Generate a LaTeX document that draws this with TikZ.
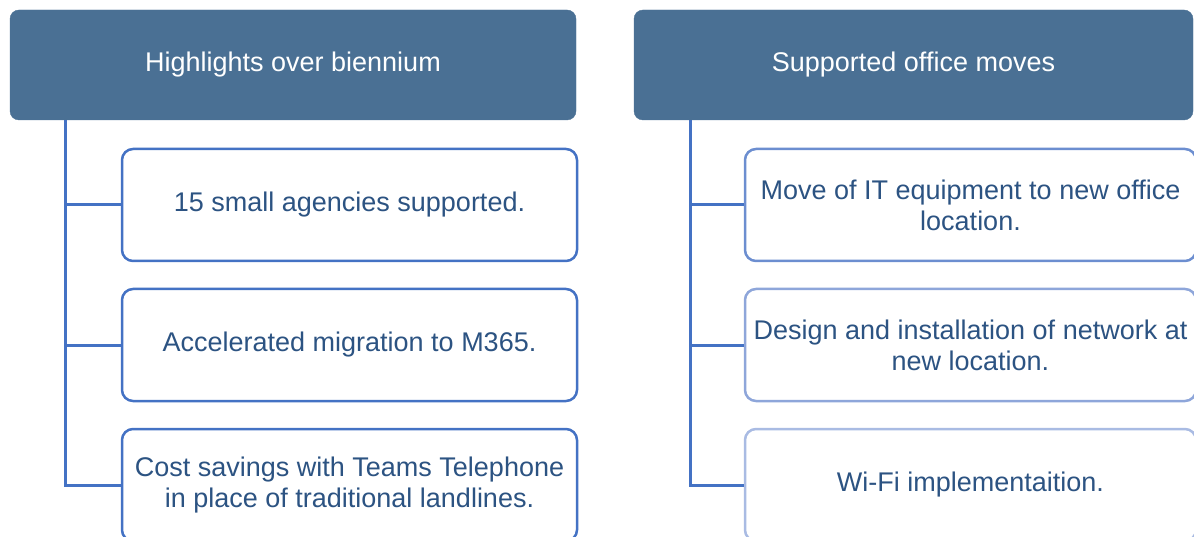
\documentclass[tikz,border=0pt]{standalone}
\usepackage{fontspec}
\setmainfont{Liberation Sans}
\definecolor{hdrfill}{HTML}{4A7094}
\definecolor{txtc}{HTML}{2C5382}
\definecolor{lnc}{HTML}{4472C4}
\definecolor{bA}{HTML}{4472C4}
\definecolor{bB}{HTML}{6C8ED0}
\definecolor{bC}{HTML}{8EA6DA}
\definecolor{bD}{HTML}{A9BBE3}
\tikzset{
  hdr/.style={fill=hdrfill, draw=hdrfill, rounded corners=9pt, minimum height=110pt,
    text=white, font=\fontsize{27}{31}\selectfont, inner sep=0pt},
  child/.style={fill=white, line width=2.5pt, rounded corners=11pt, minimum height=112pt,
    text=txtc, font=\fontsize{27}{31}\selectfont, align=center, inner sep=0pt},
  conn/.style={draw=lnc, line width=3pt}
}
\begin{document}
\begin{tikzpicture}[x=1pt,y=-1pt]
\useasboundingbox (0,0) rectangle (1194,537);
\begin{scope}
\clip (0,0) rectangle (1194,537);
% left column
\node[hdr, minimum width=566pt] (h1) at (293,65) {Highlights over biennium};
\node[child, draw=bA, minimum width=455pt] (a1) at (349.5,205) {15 small agencies supported.};
\node[child, draw=bA, minimum width=455pt] (a2) at (349.5,345) {Accelerated migration to M365.};
\node[child, draw=bA, minimum width=455pt] (a3) at (349.5,485) {Cost savings with Teams Telephone\\in place of traditional landlines.};
\coordinate (v1) at (65,120);
\draw[conn] (v1) |- (a3.west);
\draw[conn] (v1 |- a1.west) -- (a1.west);
\draw[conn] (v1 |- a2.west) -- (a2.west);
% right column
\node[hdr, minimum width=559pt] (h2) at (913.5,65) {Supported office moves};
\node[child, draw=bB, minimum width=451pt] (b1) at (970.5,205) {Move of IT equipment to new office\\location.};
\node[child, draw=bC, minimum width=451pt] (b2) at (970.5,345) {Design and installation of network at\\new location.};
\node[child, draw=bD, minimum width=451pt] (b3) at (970.5,485) {Wi-Fi implementaition.};
\coordinate (v2) at (690,120);
\draw[conn] (v2) |- (b3.west);
\draw[conn] (v2 |- b1.west) -- (b1.west);
\draw[conn] (v2 |- b2.west) -- (b2.west);
\end{scope}
\end{tikzpicture}
\end{document}
